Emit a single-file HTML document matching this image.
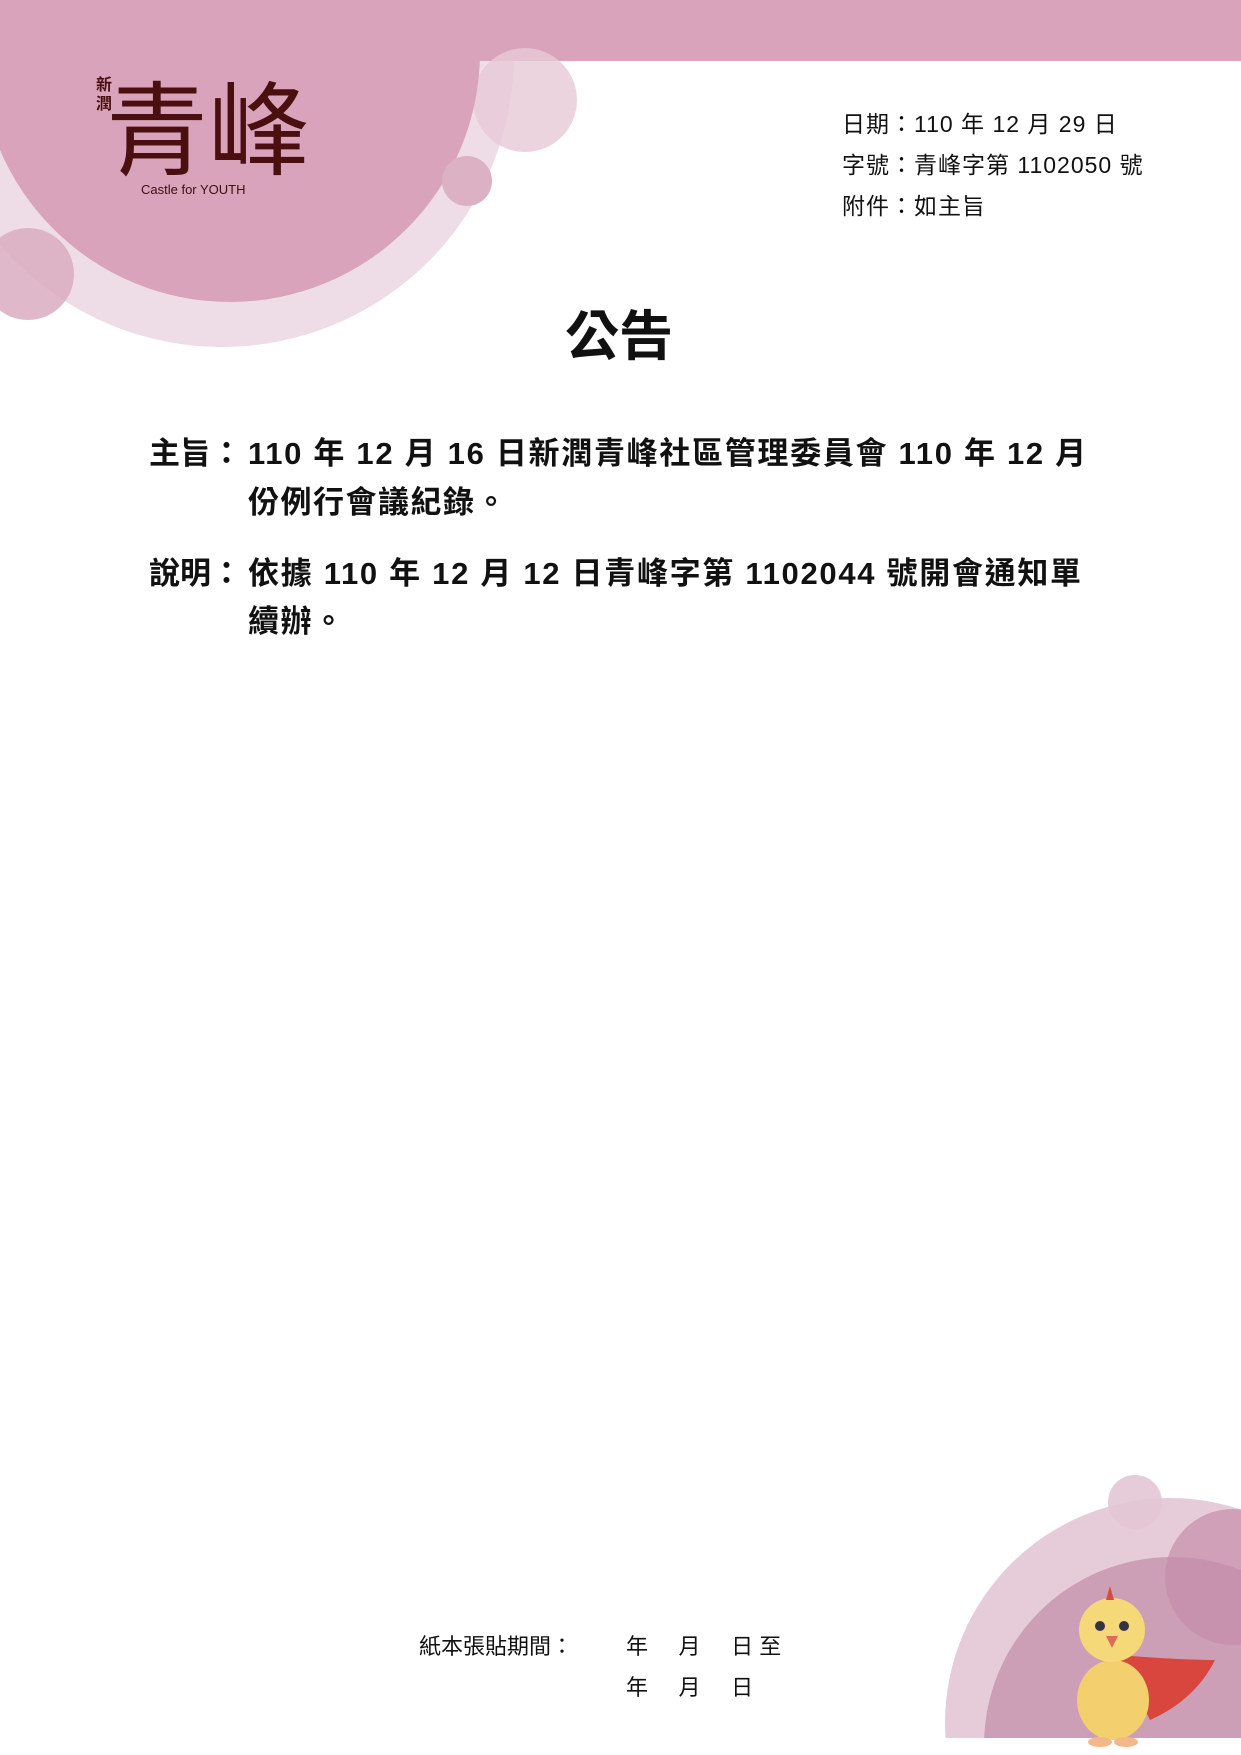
<!DOCTYPE html>
<html><head><meta charset="utf-8"><style>
html,body{margin:0;padding:0;background:#fff;overflow:hidden}
body{width:1241px;height:1755px;position:relative;overflow:hidden;font-family:"Liberation Sans","Noto Sans CJK TC",sans-serif;color:#111}
.t{position:absolute;white-space:nowrap}
</style></head><body>
<svg width="1241" height="1755" style="position:absolute;left:0;top:0;display:block">
<circle cx="222" cy="55" r="292" fill="#eedde6"/>
<rect x="0" y="0" width="1241" height="61" fill="#d8a3bb"/>
<circle cx="525" cy="100" r="52" fill="#e7c9d7" opacity="0.8"/>
<circle cx="230" cy="52" r="250" fill="#d8a3bb"/>
<circle cx="467" cy="181" r="25" fill="#dcb1c4"/>
<circle cx="28" cy="274" r="46" fill="#d9abc0" opacity="0.85"/>
<circle cx="1170" cy="1723" r="225" fill="#e6ccd9"/>
<circle cx="1172" cy="1745" r="188" fill="#cc9fb6"/>
<circle cx="1135" cy="1502" r="27" fill="#e3c6d4" opacity="0.9"/>
<circle cx="1233" cy="1577" r="68" fill="#c58daa" opacity="0.7"/>
<rect x="900" y="1738" width="341" height="17" fill="#fff"/>
<g>
<path d="M1118 1655 Q1180 1660 1215 1660 Q1195 1700 1150 1720 Z" fill="#d9463e"/>
<ellipse cx="1113" cy="1700" rx="36" ry="40" fill="#f3cf6e"/>
<ellipse cx="1112" cy="1630" rx="33" ry="32" fill="#f5d878"/>
<path d="M1110 1586 l4 14 l-8 0 z" fill="#d94a3a"/>
<circle cx="1100" cy="1626" r="5" fill="#334"/><circle cx="1124" cy="1626" r="5" fill="#334"/>
<path d="M1106 1636 l6 12 l6 -12 z" fill="#e06b5a"/>
<ellipse cx="1100" cy="1742" rx="12" ry="5" fill="#f2b88a"/><ellipse cx="1126" cy="1742" rx="12" ry="5" fill="#f2b88a"/>
</g>
</svg>
<div class="t" style="left:96px;top:76px;font-size:16px;line-height:19px;font-weight:bold;color:#4a1010;white-space:normal;width:18px">新潤</div>
<div class="t" style="left:106px;top:60px;font-size:102px;line-height:128px;color:#4a0f0f;font-family:'Noto Sans CJK TC',sans-serif">青峰</div>
<div class="t" style="left:141px;top:182px;font-size:13px;color:#3a1010">Castle for YOUTH</div>
<div class="t" style="left:842px;top:105px;font-size:23px;letter-spacing:1px">日期：110 年 12 月 29 日</div>
<div class="t" style="left:842px;top:146px;font-size:23px;letter-spacing:1px">字號：青峰字第 1102050 號</div>
<div class="t" style="left:842px;top:187px;font-size:23px;letter-spacing:1px">附件：如主旨</div>
<div class="t" style="left:565px;top:292px;font-size:54px;font-weight:bold">公告</div>
<div class="t" style="left:149px;top:428px;font-size:31px;font-weight:bold">主旨：</div>
<div class="t" style="left:248px;top:428px;font-size:31px;font-weight:bold;letter-spacing:1.7px">110 年 12 月 16 日新潤青峰社區管理委員會 110 年 12 月</div>
<div class="t" style="left:248px;top:477px;font-size:31px;font-weight:bold;letter-spacing:1.5px">份例行會議紀錄。</div>
<div class="t" style="left:149px;top:548px;font-size:31px;font-weight:bold">說明：</div>
<div class="t" style="left:248px;top:548px;font-size:31px;font-weight:bold;letter-spacing:1.7px">依據 110 年 12 月 12 日青峰字第 1102044 號開會通知單</div>
<div class="t" style="left:248px;top:596px;font-size:31px;font-weight:bold;letter-spacing:1.5px">續辦。</div>
<div class="t" style="left:419px;top:1629px;font-size:22px">紙本張貼期間：</div>
<div class="t" style="left:626px;top:1629px;font-size:22px">年&nbsp;&nbsp;&nbsp;&nbsp;&nbsp;月&nbsp;&nbsp;&nbsp;&nbsp;&nbsp;日 至</div>
<div class="t" style="left:626px;top:1670px;font-size:22px">年&nbsp;&nbsp;&nbsp;&nbsp;&nbsp;月&nbsp;&nbsp;&nbsp;&nbsp;&nbsp;日</div>
</body></html>
